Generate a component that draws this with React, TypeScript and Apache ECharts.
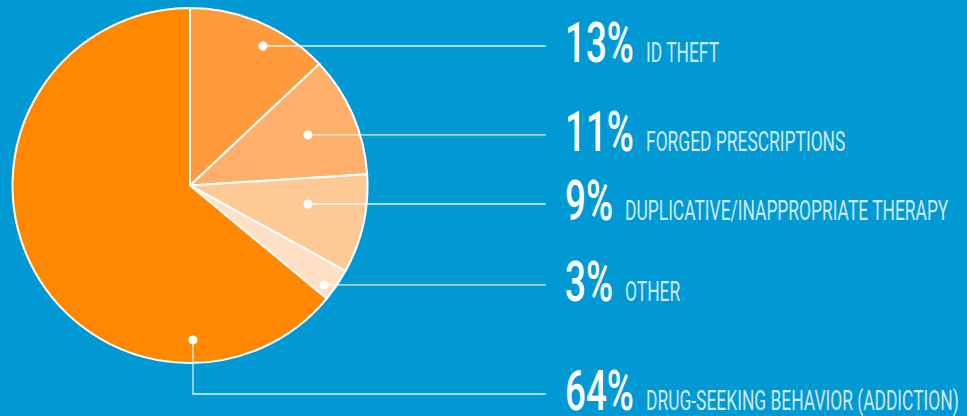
import React, { useEffect, useRef } from 'react';
import * as echarts from 'echarts';

// ---- data ----
const categories = [
  'ID THEFT',
  'FORGED PRESCRIPTIONS',
  'DUPLICATIVE/INAPPROPRIATE THERAPY',
  'OTHER',
  'DRUG-SEEKING BEHAVIOR (ADDICTION)',
];
const shares = [13, 11, 9, 3, 64];
const shareLabels = ['13%', '11%', '9%', '3%', '64%'];

// ---- styling / layout (not data) ----
const sliceColors = ['#FF9B3D', '#FFAF6A', '#FFC996', '#FFE0C4', '#FF8800'];
// where each callout dot sits: fraction along the slice's arc span, fraction of radius
const dotSpanFraction = [0.59, 0.505, 0.386, 0.72, 0.214];
const dotRadiusFraction = [0.887, 0.723, 0.673, 0.94, 0.87];
// callout row y when the leader line bends (null: straight horizontal from the dot)
const calloutRowY: (number | null)[] = [null, null, null, null, 394];

const W = 967;
const H = 416;
const CX = 190;
const CY = 185.5;
const R = 177.5;
const LINE_END_X = 546;
const TEXT_X = 565;
const NUM_SIZE = 55;
const NAME_SIZE = 27;
const NUM_SCALE = 0.67;
const NAME_SCALE = 0.645;
const FONT = 'Roboto, "Liberation Sans", sans-serif';

export default function App() {
  const ref = useRef<HTMLDivElement>(null);

  useEffect(() => {
    if (!ref.current) return;
    const chart = echarts.init(ref.current, undefined, { renderer: 'svg' });

    const canvas = document.createElement('canvas');
    const ctx = canvas.getContext('2d')!;

    const total = shares.reduce((a, b) => a + b, 0);
    let cum = 0;
    const graphics: any[] = [];
    shares.forEach((v, i) => {
      const start = (cum / total) * 360;
      const span = (v / total) * 360;
      cum += v;
      const ang = ((start + dotSpanFraction[i] * span) * Math.PI) / 180;
      const r = dotRadiusFraction[i] * R;
      const dx = CX + r * Math.sin(ang);
      const dy = CY - r * Math.cos(ang);
      const rowY = calloutRowY[i] == null ? dy : (calloutRowY[i] as number);
      const pts =
        calloutRowY[i] == null
          ? [[dx, dy], [LINE_END_X, rowY]]
          : [[dx, dy], [dx, rowY], [LINE_END_X, rowY]];
      graphics.push({
        type: 'polyline',
        z: 100,
        silent: true,
        shape: { points: pts },
        style: { stroke: 'rgba(255,255,255,0.85)', lineWidth: 1.3, fill: null },
      });
      graphics.push({
        type: 'circle',
        z: 101,
        silent: true,
        shape: { cx: dx, cy: dy, r: 4.5 },
        style: { fill: '#ffffff' },
      });
      ctx.font = `500 ${NUM_SIZE}px ${FONT}`;
      const numW = ctx.measureText(shareLabels[i]).width * NUM_SCALE;
      graphics.push({
        type: 'text',
        z: 101,
        silent: true,
        x: TEXT_X,
        y: rowY - 2.5,
        scaleX: NUM_SCALE,
        style: {
          text: shareLabels[i],
          fill: '#ffffff',
          fontFamily: FONT,
          fontSize: NUM_SIZE,
          fontWeight: 500,
          verticalAlign: 'middle',
          align: 'left',
        },
      });
      graphics.push({
        type: 'text',
        z: 101,
        silent: true,
        x: TEXT_X + numW + 12,
        y: rowY + 7,
        scaleX: NAME_SCALE,
        style: {
          text: categories[i],
          fill: '#CFEAF7',
          fontFamily: FONT,
          fontSize: NAME_SIZE,
          fontWeight: 400,
          verticalAlign: 'middle',
          align: 'left',
        },
      });
    });

    chart.setOption({
      animation: false,
      backgroundColor: '#0199D4',
      series: [
        {
          type: 'pie',
          center: [CX, CY],
          radius: R,
          startAngle: 90,
          clockwise: true,
          silent: true,
          label: { show: false },
          labelLine: { show: false },
          emphasis: { disabled: true },
          itemStyle: { borderColor: '#ffffff', borderWidth: 2 },
          data: shares.map((v, i) => ({
            value: v,
            name: categories[i],
            itemStyle: { color: sliceColors[i] },
          })),
        },
      ],
      graphic: { elements: graphics },
    });

    return () => chart.dispose();
  }, []);

  return (
    <div
      ref={ref}
      style={{ position: 'absolute', left: 0, top: 0, width: W, height: H }}
    />
  );
}
